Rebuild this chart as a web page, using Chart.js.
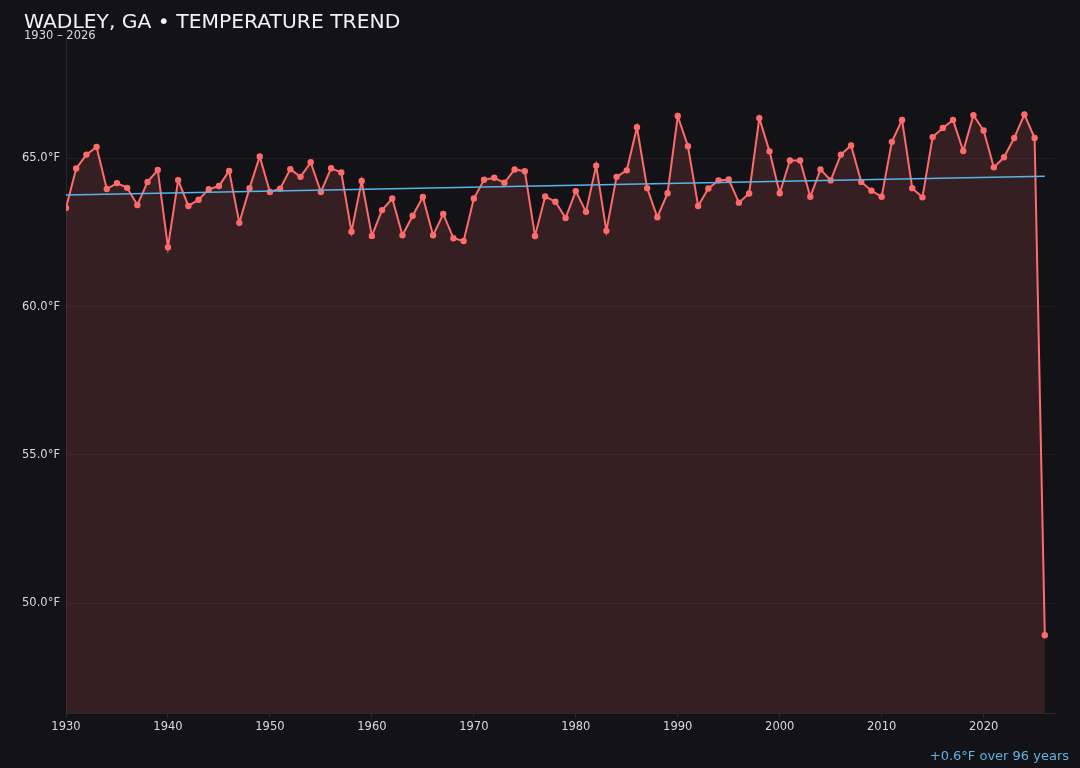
<!DOCTYPE html>
<html>
<head>
<meta charset="utf-8">
<script src="https://cdn.jsdelivr.net/npm/chart.js@4.4.1/dist/chart.umd.min.js"></script>
<style>
  html, body { margin: 0; padding: 0; background: #131217; }
  #wrap { position: relative; width: 1080px; height: 768px; }
</style>
</head>
<body>
<div id="wrap"><canvas id="canvas" width="1080" height="768"></canvas></div>
<script>
const title = "WADLEY, GA • TEMPERATURE TREND";
const subtitle = "1930 – 2026";
const trendNote = "+0.6°F over 96 years";

const years = [
  1930, 1931, 1932, 1933, 1934, 1935, 1936, 1937, 1938, 1939,
  1940, 1941, 1942, 1943, 1944, 1945, 1946, 1947, 1948, 1949,
  1950, 1951, 1952, 1953, 1954, 1955, 1956, 1957, 1958, 1959,
  1960, 1961, 1962, 1963, 1964, 1965, 1966, 1967, 1968, 1969,
  1970, 1971, 1972, 1973, 1974, 1975, 1976, 1977, 1978, 1979,
  1980, 1981, 1982, 1983, 1984, 1985, 1986, 1987, 1988, 1989,
  1990, 1991, 1992, 1993, 1994, 1995, 1996, 1997, 1998, 1999,
  2000, 2001, 2002, 2003, 2004, 2005, 2006, 2007, 2008, 2009,
  2010, 2011, 2012, 2013, 2014, 2015, 2016, 2017, 2018, 2019,
  2020, 2021, 2022, 2023, 2024, 2025, 2026
];

const temps = [
  63.32, 64.65, 65.12, 65.38, 63.96, 64.16, 64.00, 63.42, 64.20, 64.60,
  62.00, 64.26, 63.39, 63.60, 63.95, 64.06, 64.57, 62.82, 63.99, 65.06,
  63.86, 63.97, 64.63, 64.37, 64.86, 63.86, 64.66, 64.52, 62.52, 64.23,
  62.38, 63.25, 63.64, 62.40, 63.06, 63.69, 62.40, 63.12, 62.30, 62.21,
  63.64, 64.27, 64.34, 64.17, 64.62, 64.56, 62.38, 63.71, 63.53, 62.98,
  63.89, 63.19, 64.75, 62.55, 64.37, 64.59, 66.04, 63.99, 63.01, 63.82,
  66.42, 65.40, 63.39, 63.98, 64.25, 64.28, 63.50, 63.81, 66.35, 65.23,
  63.82, 64.92, 64.92, 63.70, 64.62, 64.25, 65.12, 65.43, 64.20, 63.90,
  63.70, 65.55, 66.29, 63.99, 63.68, 65.71, 66.02, 66.29, 65.24, 66.45,
  65.93, 64.69, 65.03, 65.68, 66.47, 65.68, 48.92
];

// trend line end points
const trendYears = [1930, 2026];
const trendTemps = [63.76, 64.39];

const yTicks = [50, 55, 60, 65];

const textPlugin = {
  id: "texts",
  beforeDraw(chart) {
    const ctx = chart.ctx;
    ctx.save();
    ctx.fillStyle = "#131217";
    ctx.fillRect(0, 0, chart.width, chart.height);
    ctx.restore();
  },
  afterDraw(chart) {
    const ctx = chart.ctx;
    ctx.save();
    ctx.textBaseline = "alphabetic";
    ctx.textAlign = "left";
    ctx.fillStyle = "#f2f2f2";
    ctx.font = "20.3px 'DejaVu Sans'";
    ctx.fillText(title, 24, 27.5);
    ctx.fillStyle = "#d8d8dc";
    ctx.font = "11.5px 'DejaVu Sans'";
    ctx.fillText(subtitle, 24, 39);
    ctx.textAlign = "right";
    ctx.fillStyle = "#5ab4e6";
    ctx.font = "13px 'DejaVu Sans'";
    ctx.fillText(trendNote, 1069, 760);
    ctx.restore();
  }
};

const chart = (points, trend) => {
  const data = {
    datasets: [
      {
        label: "Trend",
        data: trend,
        borderColor: "#5ab4e6",
        backgroundColor: "#5ab4e6",
        borderWidth: 1.5,
        pointRadius: 0,
        fill: false,
        order: 0,
      },
      {
        label: "Temperature",
        data: points,
        borderColor: "#ff6b6b",
        backgroundColor: "rgba(255, 107, 107, 0.15)",
        pointBackgroundColor: "#ff6b6b",
        pointBorderColor: "#ff6b6b",
        borderWidth: 2,
        pointRadius: 2.2,
        tension: 0,
        fill: "start",
        order: 1,
      },
    ],
  };

  const config = {
    type: "line",
    data: data,
    options: {
      responsive: false,
      animation: false,
      layout: { padding: { top: 38, right: 25, bottom: 0, left: 0 } },
      plugins: {
        legend: { display: false },
        tooltip: { enabled: false },
      },
      scales: {
        x: {
          type: "linear",
          min: 1930,
          max: 2027,
          afterFit: (scale) => { scale.height = 55; },
          border: { display: true, color: "#2a2a30", width: 1 },
          grid: { drawOnChartArea: false, drawTicks: true, tickLength: 4, color: "#2a2a30" },
          ticks: {
            stepSize: 10,
            includeBounds: false,
            color: "#d8d8dc",
            font: { family: "DejaVu Sans", size: 11.5 },
            padding: 3,
            maxRotation: 0,
            callback: (v) => String(v),
          },
        },
        y: {
          min: 46.3,
          max: 69.05,
          afterFit: (scale) => { scale.width = 66; },
          afterBuildTicks: (scale) => {
            scale.ticks = yTicks.map((v) => ({ value: v }));
          },
          border: { display: true, color: "#26252b", width: 1 },
          grid: { color: "rgba(255, 255, 255, 0.05)", drawTicks: false },
          ticks: {
            color: "#d8d8dc",
            font: { family: "DejaVu Sans", size: 11.5 },
            padding: 6,
            callback: (v) => v.toFixed(1) + "°F",
          },
        },
      },
    },
    plugins: [textPlugin],
  };

  const canvas = document.getElementById("canvas");
  return new Chart(canvas, config);
};

const points = years.map((year, i) => ({ x: year, y: temps[i] }));
const trend = trendYears.map((year, i) => ({ x: year, y: trendTemps[i] }));
chart(points, trend);
</script>
</body>
</html>
